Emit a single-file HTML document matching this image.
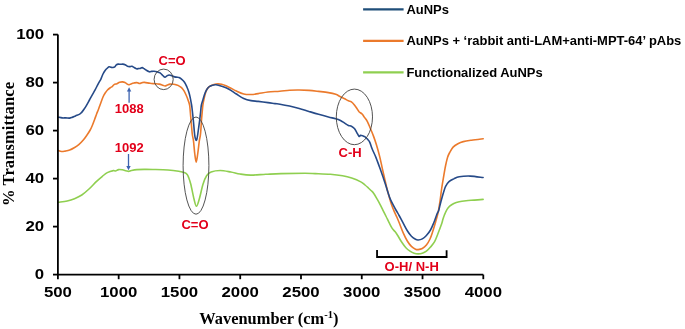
<!DOCTYPE html>
<html><head><meta charset="utf-8"><title>FTIR</title>
<style>html,body{margin:0;padding:0;background:#fff;width:685px;height:329px;overflow:hidden}svg{display:block;will-change:transform}</style>
</head><body>
<svg width="685" height="329" viewBox="0 0 685 329">
<rect width="685" height="329" fill="#fff"/>
<g fill="none" stroke-width="1.6" stroke-linejoin="round" stroke-linecap="round">
<path d="M58.60 202.30 C60.03 202.08 64.55 201.60 67.20 201.00 C69.85 200.40 72.07 199.70 74.50 198.70 C76.93 197.70 79.38 196.62 81.80 195.00 C84.22 193.38 86.58 191.23 89.00 189.00 C91.42 186.77 94.07 183.72 96.30 181.60 C98.53 179.48 100.57 177.80 102.40 176.30 C104.23 174.80 105.47 173.55 107.30 172.60 C109.13 171.65 112.03 170.87 113.40 170.60 C114.77 170.33 114.63 171.17 115.50 171.00 C116.37 170.83 117.47 169.80 118.60 169.60 C119.73 169.40 121.08 169.62 122.30 169.80 C123.52 169.98 124.83 170.43 125.90 170.70 C126.97 170.97 127.78 171.43 128.70 171.40 C129.62 171.37 130.03 170.80 131.40 170.50 C132.77 170.20 134.63 169.78 136.90 169.60 C139.17 169.42 142.35 169.42 145.00 169.40 C147.65 169.38 148.97 169.40 152.80 169.50 C156.63 169.60 163.68 169.70 168.00 170.00 C172.32 170.30 175.90 170.83 178.70 171.30 C181.50 171.77 183.38 172.25 184.80 172.80 C186.22 173.35 186.57 173.83 187.20 174.60 C187.83 175.37 188.00 175.78 188.60 177.40 C189.20 179.02 189.90 180.70 190.80 184.30 C191.70 187.90 193.07 195.35 194.00 199.00 C194.93 202.65 195.52 206.20 196.40 206.20 C197.28 206.20 198.20 202.65 199.30 199.00 C200.40 195.35 201.78 188.17 203.00 184.30 C204.22 180.43 205.25 177.85 206.60 175.80 C207.95 173.75 208.83 172.88 211.10 172.00 C213.37 171.12 216.92 170.50 220.20 170.50 C223.48 170.50 227.50 171.42 230.80 172.00 C234.10 172.58 236.70 173.48 240.00 174.00 C243.30 174.52 246.30 175.05 250.60 175.10 C254.90 175.15 260.73 174.55 265.80 174.30 C270.87 174.05 274.47 173.77 281.00 173.60 C287.53 173.43 299.30 173.30 305.00 173.30 C310.70 173.30 310.97 173.43 315.20 173.60 C319.43 173.77 325.83 173.93 330.40 174.30 C334.97 174.67 339.05 175.17 342.60 175.80 C346.15 176.43 348.67 177.08 351.70 178.10 C354.73 179.12 358.58 180.75 360.80 181.90 C363.02 183.05 363.73 183.98 365.00 185.00 C366.27 186.02 367.40 187.08 368.40 188.00 C369.40 188.92 370.13 189.63 371.00 190.50 C371.87 191.37 372.55 191.72 373.60 193.20 C374.65 194.68 376.23 197.55 377.30 199.40 C378.37 201.25 379.05 202.47 380.00 204.30 C380.95 206.13 381.98 208.37 383.00 210.40 C384.02 212.43 385.08 214.47 386.10 216.50 C387.12 218.53 388.08 220.62 389.10 222.60 C390.12 224.58 391.22 226.90 392.20 228.40 C393.18 229.90 394.08 230.42 395.00 231.60 C395.92 232.78 396.57 233.72 397.70 235.50 C398.83 237.28 400.43 240.25 401.80 242.30 C403.17 244.35 404.53 246.32 405.90 247.80 C407.27 249.28 408.63 250.28 410.00 251.20 C411.37 252.12 412.73 252.85 414.10 253.30 C415.47 253.75 416.83 253.90 418.20 253.90 C419.57 253.90 420.93 253.75 422.30 253.30 C423.67 252.85 425.03 252.23 426.40 251.20 C427.77 250.17 429.13 248.70 430.50 247.10 C431.87 245.50 433.35 243.87 434.60 241.60 C435.85 239.33 436.87 236.33 438.00 233.50 C439.13 230.67 440.57 227.02 441.40 224.60 C442.23 222.18 442.50 220.60 443.00 219.00 C443.50 217.40 443.75 216.57 444.40 215.00 C445.05 213.43 446.02 211.07 446.90 209.60 C447.78 208.13 448.55 207.22 449.70 206.20 C450.85 205.18 452.22 204.25 453.80 203.50 C455.38 202.75 457.15 202.17 459.20 201.70 C461.25 201.23 463.58 200.97 466.10 200.70 C468.62 200.43 471.47 200.32 474.30 200.10 C477.13 199.88 481.63 199.52 483.10 199.40" stroke="#8fcf50"/>
<path d="M58.30 150.60 C58.83 150.75 60.37 151.42 61.50 151.50 C62.63 151.58 63.73 151.33 65.10 151.10 C66.47 150.87 68.18 150.65 69.70 150.10 C71.22 149.55 72.68 148.72 74.20 147.80 C75.72 146.88 77.28 145.90 78.80 144.60 C80.32 143.30 81.93 141.60 83.30 140.00 C84.67 138.40 85.85 136.67 87.00 135.00 C88.15 133.33 89.28 131.67 90.20 130.00 C91.12 128.33 91.77 126.75 92.50 125.00 C93.23 123.25 93.92 121.33 94.60 119.50 C95.28 117.67 95.97 115.67 96.60 114.00 C97.23 112.33 97.80 111.08 98.40 109.50 C99.00 107.92 99.43 106.58 100.20 104.50 C100.97 102.42 102.17 98.92 103.00 97.00 C103.83 95.08 104.45 94.17 105.20 93.00 C105.95 91.83 106.65 90.88 107.50 90.00 C108.35 89.12 109.52 88.27 110.30 87.70 C111.08 87.13 111.57 87.12 112.20 86.60 C112.83 86.08 113.32 85.08 114.10 84.60 C114.88 84.12 115.98 84.08 116.90 83.70 C117.82 83.32 118.70 82.60 119.60 82.30 C120.50 82.00 121.40 81.88 122.30 81.90 C123.20 81.92 124.23 82.07 125.00 82.40 C125.77 82.73 126.28 83.50 126.90 83.90 C127.52 84.30 128.02 84.80 128.70 84.80 C129.38 84.80 130.10 84.20 131.00 83.90 C131.90 83.60 133.12 83.22 134.10 83.00 C135.08 82.78 135.98 82.52 136.90 82.60 C137.82 82.68 138.70 83.50 139.60 83.50 C140.50 83.50 141.47 82.78 142.30 82.60 C143.13 82.42 143.32 82.28 144.60 82.40 C145.88 82.52 148.33 83.08 150.00 83.30 C151.67 83.52 153.08 83.57 154.60 83.70 C156.12 83.83 157.73 83.85 159.10 84.10 C160.47 84.35 161.82 84.88 162.80 85.20 C163.78 85.52 164.25 86.02 165.00 86.00 C165.75 85.98 166.47 85.42 167.30 85.10 C168.13 84.78 168.93 84.23 170.00 84.10 C171.07 83.97 172.48 84.12 173.70 84.30 C174.92 84.48 176.52 84.98 177.30 85.20 C178.08 85.42 177.70 85.20 178.40 85.60 C179.10 86.00 180.58 86.75 181.50 87.60 C182.42 88.45 183.10 89.38 183.90 90.70 C184.70 92.02 185.58 93.88 186.30 95.50 C187.02 97.12 187.65 98.82 188.20 100.40 C188.75 101.98 189.25 103.07 189.60 105.00 C189.95 106.93 190.07 109.50 190.30 112.00 C190.53 114.50 190.77 117.33 191.00 120.00 C191.23 122.67 191.47 125.50 191.70 128.00 C191.93 130.50 192.10 132.83 192.40 135.00 C192.70 137.17 193.10 137.83 193.50 141.00 C193.90 144.17 194.35 150.47 194.80 154.00 C195.25 157.53 195.72 162.20 196.20 162.20 C196.68 162.20 197.18 157.53 197.70 154.00 C198.22 150.47 198.85 144.17 199.30 141.00 C199.75 137.83 200.12 137.17 200.40 135.00 C200.68 132.83 200.82 130.50 201.00 128.00 C201.18 125.50 201.30 122.67 201.50 120.00 C201.70 117.33 201.97 114.50 202.20 112.00 C202.43 109.50 202.60 107.13 202.90 105.00 C203.20 102.87 203.52 101.38 204.00 99.20 C204.48 97.02 205.10 93.83 205.80 91.90 C206.50 89.97 207.28 88.65 208.20 87.60 C209.12 86.55 210.00 86.20 211.30 85.60 C212.60 85.00 214.27 84.22 216.00 84.00 C217.73 83.78 219.53 83.77 221.70 84.30 C223.87 84.83 226.55 86.07 229.00 87.20 C231.45 88.33 233.95 89.97 236.40 91.10 C238.85 92.23 241.27 93.43 243.70 94.00 C246.13 94.57 248.58 94.57 251.00 94.50 C253.42 94.43 255.37 94.02 258.20 93.60 C261.03 93.18 264.42 92.40 268.00 92.00 C271.58 91.60 276.12 91.50 279.70 91.20 C283.28 90.90 286.25 90.40 289.50 90.20 C292.75 90.00 295.97 89.97 299.20 90.00 C302.43 90.03 305.67 90.17 308.90 90.40 C312.13 90.63 315.35 91.03 318.60 91.40 C321.85 91.77 325.55 92.12 328.40 92.60 C331.25 93.08 333.77 93.65 335.70 94.30 C337.63 94.95 338.52 95.75 340.00 96.50 C341.48 97.25 343.20 98.08 344.60 98.80 C346.00 99.52 347.27 100.30 348.40 100.80 C349.53 101.30 350.40 101.12 351.40 101.80 C352.40 102.48 353.38 103.63 354.40 104.90 C355.42 106.17 356.73 108.27 357.50 109.40 C358.27 110.53 358.23 110.93 359.00 111.70 C359.77 112.47 361.22 113.10 362.10 114.00 C362.98 114.90 363.42 115.83 364.30 117.10 C365.18 118.37 366.38 119.70 367.40 121.60 C368.42 123.50 369.38 126.08 370.40 128.50 C371.42 130.92 372.48 133.35 373.50 136.10 C374.52 138.85 375.47 141.58 376.50 145.00 C377.53 148.42 378.72 152.62 379.70 156.60 C380.68 160.58 381.58 165.25 382.40 168.90 C383.22 172.55 383.87 175.32 384.60 178.50 C385.33 181.68 386.05 185.00 386.80 188.00 C387.55 191.00 388.33 193.78 389.10 196.50 C389.87 199.22 390.52 201.73 391.40 204.30 C392.28 206.87 393.50 209.78 394.40 211.90 C395.30 214.02 396.02 215.23 396.80 217.00 C397.58 218.77 398.03 219.87 399.10 222.50 C400.17 225.13 401.83 229.72 403.20 232.80 C404.57 235.88 405.93 238.73 407.30 241.00 C408.67 243.27 410.03 245.03 411.40 246.40 C412.77 247.77 414.37 248.67 415.50 249.20 C416.63 249.73 417.07 249.72 418.20 249.60 C419.33 249.48 420.93 249.25 422.30 248.50 C423.67 247.75 425.12 246.68 426.40 245.10 C427.68 243.52 429.00 241.10 430.00 239.00 C431.00 236.90 431.47 235.33 432.40 232.50 C433.33 229.67 434.65 225.32 435.60 222.00 C436.55 218.68 437.35 216.18 438.10 212.60 C438.85 209.02 439.52 204.43 440.10 200.50 C440.68 196.57 440.97 193.25 441.60 189.00 C442.23 184.75 443.23 178.92 443.90 175.00 C444.57 171.08 444.98 168.45 445.60 165.50 C446.22 162.55 446.92 159.47 447.60 157.30 C448.28 155.13 448.78 154.20 449.70 152.50 C450.62 150.80 451.73 148.57 453.10 147.10 C454.47 145.63 456.20 144.62 457.90 143.70 C459.60 142.78 461.03 142.18 463.30 141.60 C465.57 141.02 468.18 140.67 471.50 140.20 C474.82 139.73 481.25 139.03 483.20 138.80" stroke="#eb7a2c"/>
<path d="M58.40 117.20 C59.02 117.32 60.88 117.78 62.10 117.90 C63.32 118.02 64.48 117.87 65.70 117.90 C66.92 117.93 68.38 118.17 69.40 118.10 C70.42 118.03 70.78 117.87 71.80 117.50 C72.82 117.13 74.18 116.47 75.50 115.90 C76.82 115.33 78.70 114.65 79.70 114.10 C80.70 113.55 80.78 113.40 81.50 112.60 C82.22 111.80 83.17 110.52 84.00 109.30 C84.83 108.08 85.55 106.93 86.50 105.30 C87.45 103.67 88.67 101.35 89.70 99.50 C90.73 97.65 91.80 95.80 92.70 94.20 C93.60 92.60 94.18 91.63 95.10 89.90 C96.02 88.17 97.25 85.57 98.20 83.80 C99.15 82.03 100.00 80.93 100.80 79.30 C101.60 77.67 102.25 75.52 103.00 74.00 C103.75 72.48 104.53 71.22 105.30 70.20 C106.07 69.18 106.97 68.47 107.60 67.90 C108.23 67.33 108.53 66.90 109.10 66.80 C109.67 66.70 110.37 67.18 111.00 67.30 C111.63 67.42 112.27 67.58 112.90 67.50 C113.53 67.42 114.23 67.23 114.80 66.80 C115.37 66.37 115.72 65.35 116.30 64.90 C116.88 64.45 117.60 64.20 118.30 64.10 C119.00 64.00 119.75 64.30 120.50 64.30 C121.25 64.30 122.03 64.03 122.80 64.10 C123.57 64.17 124.33 64.33 125.10 64.70 C125.87 65.07 126.63 65.98 127.40 66.30 C128.17 66.62 128.95 66.60 129.70 66.60 C130.45 66.60 131.15 66.15 131.90 66.30 C132.65 66.45 133.43 67.08 134.20 67.50 C134.97 67.92 135.73 68.63 136.50 68.80 C137.27 68.97 138.17 68.57 138.80 68.50 C139.43 68.43 139.73 68.55 140.30 68.40 C140.87 68.25 141.57 67.55 142.20 67.60 C142.83 67.65 143.40 68.25 144.10 68.70 C144.80 69.15 145.52 69.78 146.40 70.30 C147.28 70.82 148.52 71.62 149.40 71.80 C150.28 71.98 150.93 71.48 151.70 71.40 C152.47 71.32 153.12 71.23 154.00 71.30 C154.88 71.37 155.98 71.53 157.00 71.80 C158.02 72.07 159.13 72.28 160.10 72.90 C161.07 73.52 161.98 74.78 162.80 75.50 C163.62 76.22 164.32 77.13 165.00 77.20 C165.68 77.27 166.22 76.27 166.90 75.90 C167.58 75.53 168.27 75.02 169.10 75.00 C169.93 74.98 170.98 75.48 171.90 75.80 C172.82 76.12 173.70 76.67 174.60 76.90 C175.50 77.13 176.57 77.08 177.30 77.20 C178.03 77.32 178.30 77.28 179.00 77.60 C179.70 77.92 180.58 78.33 181.50 79.10 C182.42 79.87 183.60 80.88 184.50 82.20 C185.40 83.52 186.18 85.38 186.90 87.00 C187.62 88.62 188.28 90.28 188.80 91.90 C189.32 93.52 189.60 94.88 190.00 96.70 C190.40 98.52 190.87 100.92 191.20 102.80 C191.53 104.68 191.65 105.13 192.00 108.00 C192.35 110.87 192.85 115.50 193.30 120.00 C193.75 124.50 194.32 131.80 194.70 135.00 C195.08 138.20 195.35 138.30 195.60 139.20 C195.85 140.10 195.98 140.40 196.20 140.40 C196.42 140.40 196.63 140.27 196.90 139.20 C197.17 138.13 197.33 137.20 197.80 134.00 C198.27 130.80 199.23 123.67 199.70 120.00 C200.17 116.33 200.33 114.42 200.60 112.00 C200.87 109.58 200.95 107.42 201.30 105.50 C201.65 103.58 202.15 102.37 202.70 100.50 C203.25 98.63 203.98 96.03 204.60 94.30 C205.22 92.57 205.70 91.32 206.40 90.10 C207.10 88.88 207.78 87.82 208.80 87.00 C209.82 86.18 211.30 85.57 212.50 85.20 C213.70 84.83 214.47 84.62 216.00 84.80 C217.53 84.98 219.53 85.57 221.70 86.30 C223.87 87.03 226.55 87.92 229.00 89.20 C231.45 90.48 233.95 92.47 236.40 94.00 C238.85 95.53 241.27 97.30 243.70 98.40 C246.13 99.50 248.58 100.10 251.00 100.60 C253.42 101.10 255.37 101.07 258.20 101.40 C261.03 101.73 265.20 102.23 268.00 102.60 C270.80 102.97 273.00 103.33 275.00 103.60 C277.00 103.87 277.58 103.80 280.00 104.20 C282.42 104.60 286.30 105.30 289.50 106.00 C292.70 106.70 295.97 107.50 299.20 108.40 C302.43 109.30 305.67 110.42 308.90 111.40 C312.13 112.38 315.35 113.37 318.60 114.30 C321.85 115.23 325.55 116.27 328.40 117.00 C331.25 117.73 333.68 118.12 335.70 118.70 C337.72 119.28 339.02 119.77 340.50 120.50 C341.98 121.23 343.28 122.28 344.60 123.10 C345.92 123.92 347.27 124.88 348.40 125.40 C349.53 125.92 350.40 125.68 351.40 126.20 C352.40 126.72 353.52 127.48 354.40 128.50 C355.28 129.52 355.93 130.98 356.70 132.30 C357.47 133.62 358.37 135.90 359.00 136.40 C359.63 136.90 359.87 135.40 360.50 135.30 C361.13 135.20 362.03 135.55 362.80 135.80 C363.57 136.05 364.33 136.25 365.10 136.80 C365.87 137.35 366.63 138.22 367.40 139.10 C368.17 139.98 368.90 140.45 369.70 142.10 C370.50 143.75 371.15 146.42 372.20 149.00 C373.25 151.58 374.62 154.13 376.00 157.60 C377.38 161.07 379.25 166.32 380.50 169.80 C381.75 173.28 382.58 175.80 383.50 178.50 C384.42 181.20 385.25 183.67 386.00 186.00 C386.75 188.33 387.23 190.20 388.00 192.50 C388.77 194.80 389.65 197.58 390.60 199.80 C391.55 202.02 392.72 203.93 393.70 205.80 C394.68 207.67 395.60 209.38 396.50 211.00 C397.40 212.62 397.98 213.47 399.10 215.50 C400.22 217.53 401.83 220.67 403.20 223.20 C404.57 225.73 405.93 228.53 407.30 230.70 C408.67 232.87 410.03 234.77 411.40 236.20 C412.77 237.63 414.37 238.67 415.50 239.30 C416.63 239.93 417.07 240.07 418.20 240.00 C419.33 239.93 420.93 239.65 422.30 238.90 C423.67 238.15 425.03 236.98 426.40 235.50 C427.77 234.02 429.28 232.08 430.50 230.00 C431.72 227.92 432.65 225.58 433.70 223.00 C434.75 220.42 435.97 216.58 436.80 214.50 C437.63 212.42 438.12 212.25 438.70 210.50 C439.28 208.75 439.73 206.20 440.30 204.00 C440.87 201.80 441.52 199.38 442.10 197.30 C442.68 195.22 443.22 193.32 443.80 191.50 C444.38 189.68 444.73 188.05 445.60 186.40 C446.47 184.75 447.63 182.85 449.00 181.60 C450.37 180.35 452.10 179.70 453.80 178.90 C455.50 178.10 456.47 177.27 459.20 176.80 C461.93 176.33 466.22 175.98 470.20 176.10 C474.18 176.22 480.95 177.27 483.10 177.50" stroke="#264a88"/>
</g>
<g fill="none" stroke="#404040" stroke-width="0.9">
<ellipse cx="163.65" cy="79.35" rx="9.55" ry="10.25"/>
<ellipse cx="196" cy="165.6" rx="12.9" ry="48.6"/>
<ellipse cx="354.4" cy="116.9" rx="18.1" ry="27.8"/>
</g>
<g stroke="#000" stroke-width="1.8" fill="none">
<path d="M57.90 34.60 V274.60 H483.30"/>
<path d="M53 274.60 H57.90"/>
<path d="M53 226.60 H57.90"/>
<path d="M53 178.60 H57.90"/>
<path d="M53 130.60 H57.90"/>
<path d="M53 82.60 H57.90"/>
<path d="M53 34.60 H57.90"/>
<path d="M57.90 274.60 V279.2"/>
<path d="M118.67 274.60 V279.2"/>
<path d="M179.44 274.60 V279.2"/>
<path d="M240.21 274.60 V279.2"/>
<path d="M300.99 274.60 V279.2"/>
<path d="M361.76 274.60 V279.2"/>
<path d="M422.53 274.60 V279.2"/>
<path d="M483.30 274.60 V279.2"/>
</g>
<path d="M377.05 250.0 V257.0 H446.6 V250.3" fill="none" stroke="#000" stroke-width="1.8"/>
<g stroke="#3d63b0" stroke-width="1.3" fill="#3d63b0">
<path d="M129.1 102.7 V90.5" fill="none"/>
<path d="M126.9 91.6 L129.1 87.2 L131.3 91.6 Z" stroke="none"/>
<path d="M128.5 154.0 V167" fill="none"/>
<path d="M126.3 166.0 L128.5 170.2 L130.7 166.0 Z" stroke="none"/>
</g>
<g font-family="'Liberation Sans', sans-serif" font-weight="bold" font-size="15" fill="#000">
<text x="44.2" y="278.80" text-anchor="end" transform="translate(44.2 0) scale(1.12 1) translate(-44.2 0)">0</text>
<text x="44.2" y="230.80" text-anchor="end" transform="translate(44.2 0) scale(1.12 1) translate(-44.2 0)">20</text>
<text x="44.2" y="182.80" text-anchor="end" transform="translate(44.2 0) scale(1.12 1) translate(-44.2 0)">40</text>
<text x="44.2" y="134.80" text-anchor="end" transform="translate(44.2 0) scale(1.12 1) translate(-44.2 0)">60</text>
<text x="44.2" y="86.80" text-anchor="end" transform="translate(44.2 0) scale(1.12 1) translate(-44.2 0)">80</text>
<text x="44.2" y="38.80" text-anchor="end" transform="translate(44.2 0) scale(1.12 1) translate(-44.2 0)">100</text>
<text x="57.90" y="296.8" text-anchor="middle" transform="translate(57.90 0) scale(1.12 1) translate(-57.90 0)">500</text>
<text x="118.67" y="296.8" text-anchor="middle" transform="translate(118.67 0) scale(1.12 1) translate(-118.67 0)">1000</text>
<text x="179.44" y="296.8" text-anchor="middle" transform="translate(179.44 0) scale(1.12 1) translate(-179.44 0)">1500</text>
<text x="240.21" y="296.8" text-anchor="middle" transform="translate(240.21 0) scale(1.12 1) translate(-240.21 0)">2000</text>
<text x="300.99" y="296.8" text-anchor="middle" transform="translate(300.99 0) scale(1.12 1) translate(-300.99 0)">2500</text>
<text x="361.76" y="296.8" text-anchor="middle" transform="translate(361.76 0) scale(1.12 1) translate(-361.76 0)">3000</text>
<text x="422.53" y="296.8" text-anchor="middle" transform="translate(422.53 0) scale(1.12 1) translate(-422.53 0)">3500</text>
<text x="483.30" y="296.8" text-anchor="middle" transform="translate(483.30 0) scale(1.12 1) translate(-483.30 0)">4000</text>
</g>
<g font-family="'Liberation Sans', sans-serif" font-weight="bold" font-size="13" fill="#e2001a">
<text x="172.1" y="64.9" text-anchor="middle">C=O</text>
<text x="129.2" y="112.8" text-anchor="middle">1088</text>
<text x="129.2" y="151.7" text-anchor="middle">1092</text>
<text x="195.0" y="229.3" text-anchor="middle">C=O</text>
<text x="350.1" y="157.1" text-anchor="middle">C-H</text>
<text x="411.7" y="270.8" text-anchor="middle">O-H/ N-H</text>
</g>
<g stroke-width="2.3">
<path d="M363.1 9.4 H403.6" stroke="#1f4e79"/>
<path d="M363.1 40.9 H403.6" stroke="#eb7a2c"/>
<path d="M363.1 72.4 H403.6" stroke="#8fcf50"/>
</g>
<g font-family="'Liberation Sans', sans-serif" font-weight="bold" font-size="12.3" fill="#000" transform="translate(406.4 0) scale(1.054 1) translate(-406.4 0)">
<text x="406.4" y="13.7">AuNPs</text>
<text x="406.4" y="45.4">AuNPs + ‘rabbit anti-LAM+anti-MPT-64’ pAbs</text>
<text x="406.4" y="76.6">Functionalized AuNPs</text>
</g>
<g font-family="'Liberation Serif', serif" font-weight="bold" fill="#000">
<text x="268.9" y="324.1" text-anchor="middle" font-size="16.4">Wavenumber (cm<tspan font-size="10.5" dy="-6.2">-1</tspan><tspan dy="6.2">)</tspan></text>
<text transform="translate(13.8 144.0) rotate(-90)" text-anchor="middle" font-size="16.7">% Transmittance</text>
</g>
</svg>
</body></html>
